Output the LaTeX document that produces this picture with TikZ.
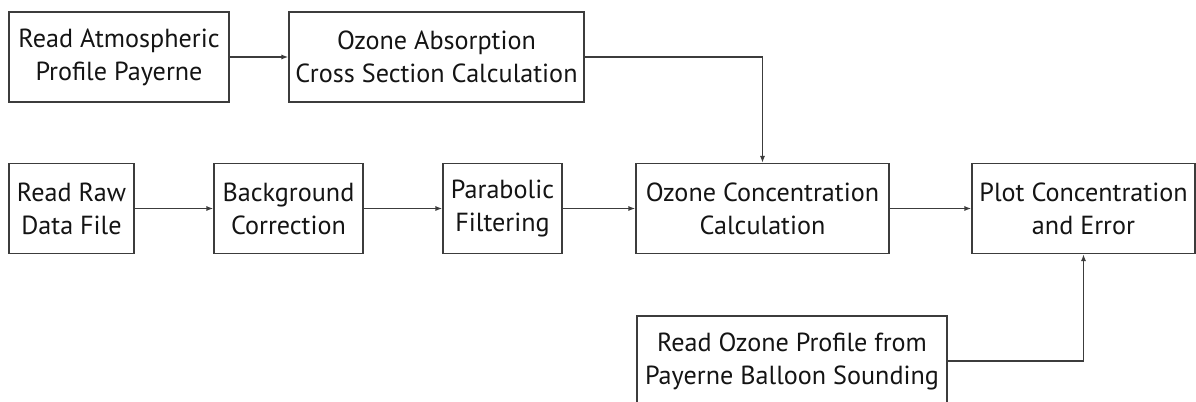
\documentclass[tikz,border=0pt]{standalone}
\usepackage{fontspec}
\setmainfont{PT Sans}
\usetikzlibrary{positioning, arrows.meta}
\definecolor{LineGray}{RGB}{60,60,60}
\definecolor{TextGray}{RGB}{20,20,20}
\tikzset{
  procbox/.style={draw=LineGray, line width=1.1pt, rectangle, align=center,
    text=TextGray, inner sep=0pt, minimum height=2.25cm,
    font=\fontsize{18.6}{23.5}\selectfont},
  flow/.style={draw=LineGray, line width=1.1pt, -{Latex[length=1.7mm,width=1.3mm]}}
}
\begin{document}
\begin{tikzpicture}[x=0.025cm, y=-0.025cm]
  \useasboundingbox (0,0) rectangle (1196,401);
  % top row
  \node[procbox, minimum width=5.5cm] (atm) at (119,57) {Read Atmospheric\\Profile Payerne};
  \node[procbox, minimum width=7.375cm] (xsec) at (436.5,57) {Ozone Absorption\\Cross Section Calculation};
  % main row
  \node[procbox, minimum width=3.125cm] (raw) at (71.5,208.5) {Read Raw\\Data File};
  \node[procbox, minimum width=3.725cm] (bkg) at (288.5,208.5) {Background\\Correction};
  \node[procbox, minimum width=2.975cm] (para) at (502.5,208.5) {Parabolic\\Filtering};
  \node[procbox, minimum width=6.325cm] (conc) at (762.5,208.5) {Ozone Concentration\\Calculation};
  \node[procbox, minimum width=5.575cm] (plot) at (1083.5,208.5) {Plot Concentration\\and Error};
  % balloon data
  \node[procbox, minimum width=7.75cm] (sonde) at (792,361) {Read Ozone Profile from\\Payerne Balloon Sounding};
  % connectors
  \draw[flow] (atm) -- (xsec);
  \draw[flow] (xsec.east) -| (conc.north);
  \draw[flow] (raw) -- (bkg);
  \draw[flow] (bkg) -- (para);
  \draw[flow] (para) -- (conc);
  \draw[flow] (conc) -- (plot);
  \draw[flow] (sonde.east) -| (plot.south);
\end{tikzpicture}
\end{document}
